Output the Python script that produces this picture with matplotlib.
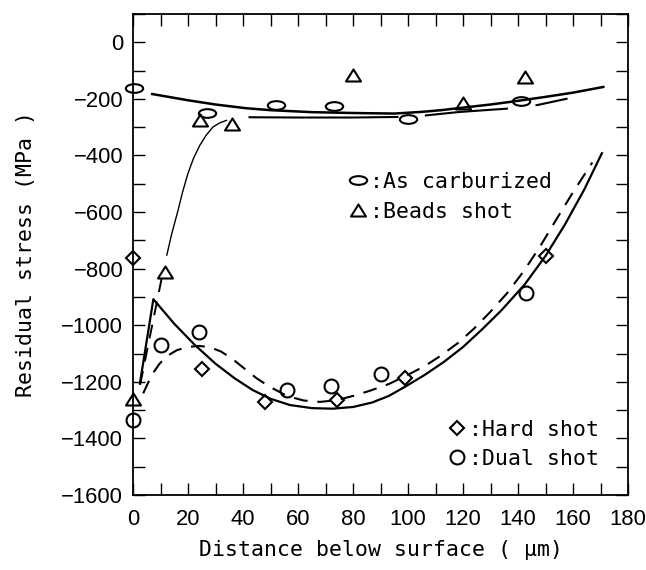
import matplotlib
matplotlib.use("Agg")
import matplotlib.pyplot as plt
from matplotlib.path import Path
from matplotlib.transforms import Affine2D
from matplotlib.ticker import MultipleLocator

plt.rcParams['font.family'] = ['DejaVu Sans Mono', 'DejaVu Sans']
plt.rcParams['lines.scale_dashes'] = False

# Measured residual stress (MPa) against depth below surface (um)
carb_x = [0.5, 27, 52, 73, 100, 141]
carb_y = [-162, -251, -220, -225, -270, -207]
beads_x = [0, 11.5, 24.3, 36, 80, 120, 142.5]
beads_y = [-1259, -813, -273, -290, -117, -216, -122]
hard_x = [0, 25, 48, 74, 99, 150]
hard_y = [-764, -1155, -1270, -1265, -1185, -756]
dual_x = [0, 10, 24, 56, 72, 90, 143]
dual_y = [-1335, -1071, -1025, -1230, -1215, -1174, -885]

# Fitted stress distributions
carb_fit_x = [7, 20, 30, 41, 50, 65, 80, 95, 105, 112, 120, 130, 140, 150, 160, 171]
carb_fit_y = [-183, -205, -220, -233, -240, -247, -250, -252, -246, -240, -231, -220, -207, -193, -178, -158]

beads_fit1_x = [2.6, 10.5]
beads_fit1_y = [-1210, -830]
beads_fit2_x = [12.3, 14, 16.4, 18, 20, 22, 24.3, 26.5, 29, 31.5, 34]
beads_fit2_y = [-752, -680, -593, -530, -463, -410, -364, -330, -300, -285, -276]
beads_fit3_x = [42, 60, 80, 96, 106, 118, 128, 137, 147, 158]
beads_fit3_y = [-265, -266, -266, -264, -259, -247, -240, -234, -222, -199]

hard_fit_x = [2.5, 7.4, 15, 22.5, 30, 37, 43.5, 50, 57, 65, 72.5, 80, 87, 93, 99,
              106, 113, 120, 127, 134, 142.5, 150, 157, 164, 170.5]
hard_fit_y = [-1206, -908, -995, -1070, -1136, -1188, -1229, -1260, -1282, -1293, -1295,
              -1289, -1273, -1250, -1217, -1176, -1130, -1077, -1014, -947, -855, -755,
              -645, -522, -392]

dual_fit_x = [3.7, 6.8, 9.5, 12, 16, 20, 24, 28, 32, 36, 41, 45, 50, 56, 62, 68, 74, 80,
              86, 93, 100, 106, 112, 118, 124, 130, 136, 142, 148, 154, 160, 167]
dual_fit_y = [-1241, -1176, -1138, -1111, -1088, -1077, -1073, -1078, -1093, -1118, -1157,
              -1188, -1219, -1250, -1266, -1271, -1265, -1250, -1232, -1208, -1175, -1145,
              -1107, -1064, -1012, -952, -887, -810, -722, -625, -530, -425]

# Marker shapes: flat ellipse and squat triangle
ellipse = Path.unit_circle().transformed(Affine2D().scale(1.0, 0.5))
triangle = Path([(0, 0.8), (-1, -0.8), (1, -0.8), (0, 0.8)],
                [Path.MOVETO, Path.LINETO, Path.LINETO, Path.CLOSEPOLY])

fig = plt.figure(figsize=(6.46, 5.70), dpi=100)
ax = fig.add_axes([0.2059, 0.1316, 0.7663, 0.8439])

k = 'black'
ax.plot(carb_fit_x, carb_fit_y, color=k, lw=1.8)
ax.plot(beads_fit1_x, beads_fit1_y, color=k, lw=1.4, dashes=(10, 7))
ax.plot(beads_fit2_x, beads_fit2_y, color=k, lw=1.0)
ax.plot(beads_fit3_x, beads_fit3_y, color=k, lw=1.5, dashes=(108, 19, 60, 20))
ax.plot(hard_fit_x, hard_fit_y, color=k, lw=1.6)
ax.plot(dual_fit_x, dual_fit_y, color=k, lw=1.5, dashes=(10, 7))

mk = dict(ls='none', mfc='none', mec=k, mew=1.5, clip_on=False, zorder=5)
ax.plot(carb_x, carb_y, marker=ellipse, ms=12.5, **mk)
ax.plot(beads_x, beads_y, marker=triangle, ms=10.8, **mk)
ax.plot(hard_x, hard_y, marker='D', ms=7.6, **mk)
ax.plot(dual_x, dual_y, marker='o', ms=10, **mk)

ax.set_xlim(0, 180)
ax.set_ylim(-1600, 100)
ax.xaxis.set_major_locator(MultipleLocator(20))
ax.xaxis.set_minor_locator(MultipleLocator(10))
ax.yaxis.set_major_locator(MultipleLocator(200))
ax.yaxis.set_minor_locator(MultipleLocator(100))
ax.tick_params(which='both', direction='in', top=True, right=True,
               length=8.5, width=1.0, color=k)
ax.tick_params(axis='x', which='major', pad=10)
ax.tick_params(axis='y', which='major', pad=7)
tick_font = ['Liberation Sans', 'DejaVu Sans']
for lab in ax.get_xticklabels() + ax.get_yticklabels():
    lab.set_fontfamily(tick_font)
    lab.set_fontsize(15.8)
for s in ax.spines.values():
    s.set_linewidth(1.3)

ax.set_xlabel('Distance below surface ( \u03bcm)', fontsize=15.5)
ax.set_ylabel('Residual stress (MPa )', fontsize=15.5)
ax.xaxis.set_label_coords(0.5, -0.094)
ax.yaxis.set_label_coords(-0.196, 0.5)

# Key for the two groups of series
keys = [
    (ellipse, 12.5, 0.4545, 0.655, ':As carburized'),
    (triangle, 10.8, 0.4545, 0.5925, ':Beads shot'),
    ('D', 7.6, 0.6539, 0.1387, ':Hard shot'),
    ('o', 10, 0.6539, 0.0796, ':Dual shot'),
]
for m, ms, x, y, label in keys:
    ax.plot([x], [y], marker=m, ms=ms, transform=ax.transAxes, **mk)
    ax.text(x + 0.024, y - 0.004, label, transform=ax.transAxes,
            ha='left', va='center', fontsize=15.5)

fig.savefig('out.png', dpi=100)
